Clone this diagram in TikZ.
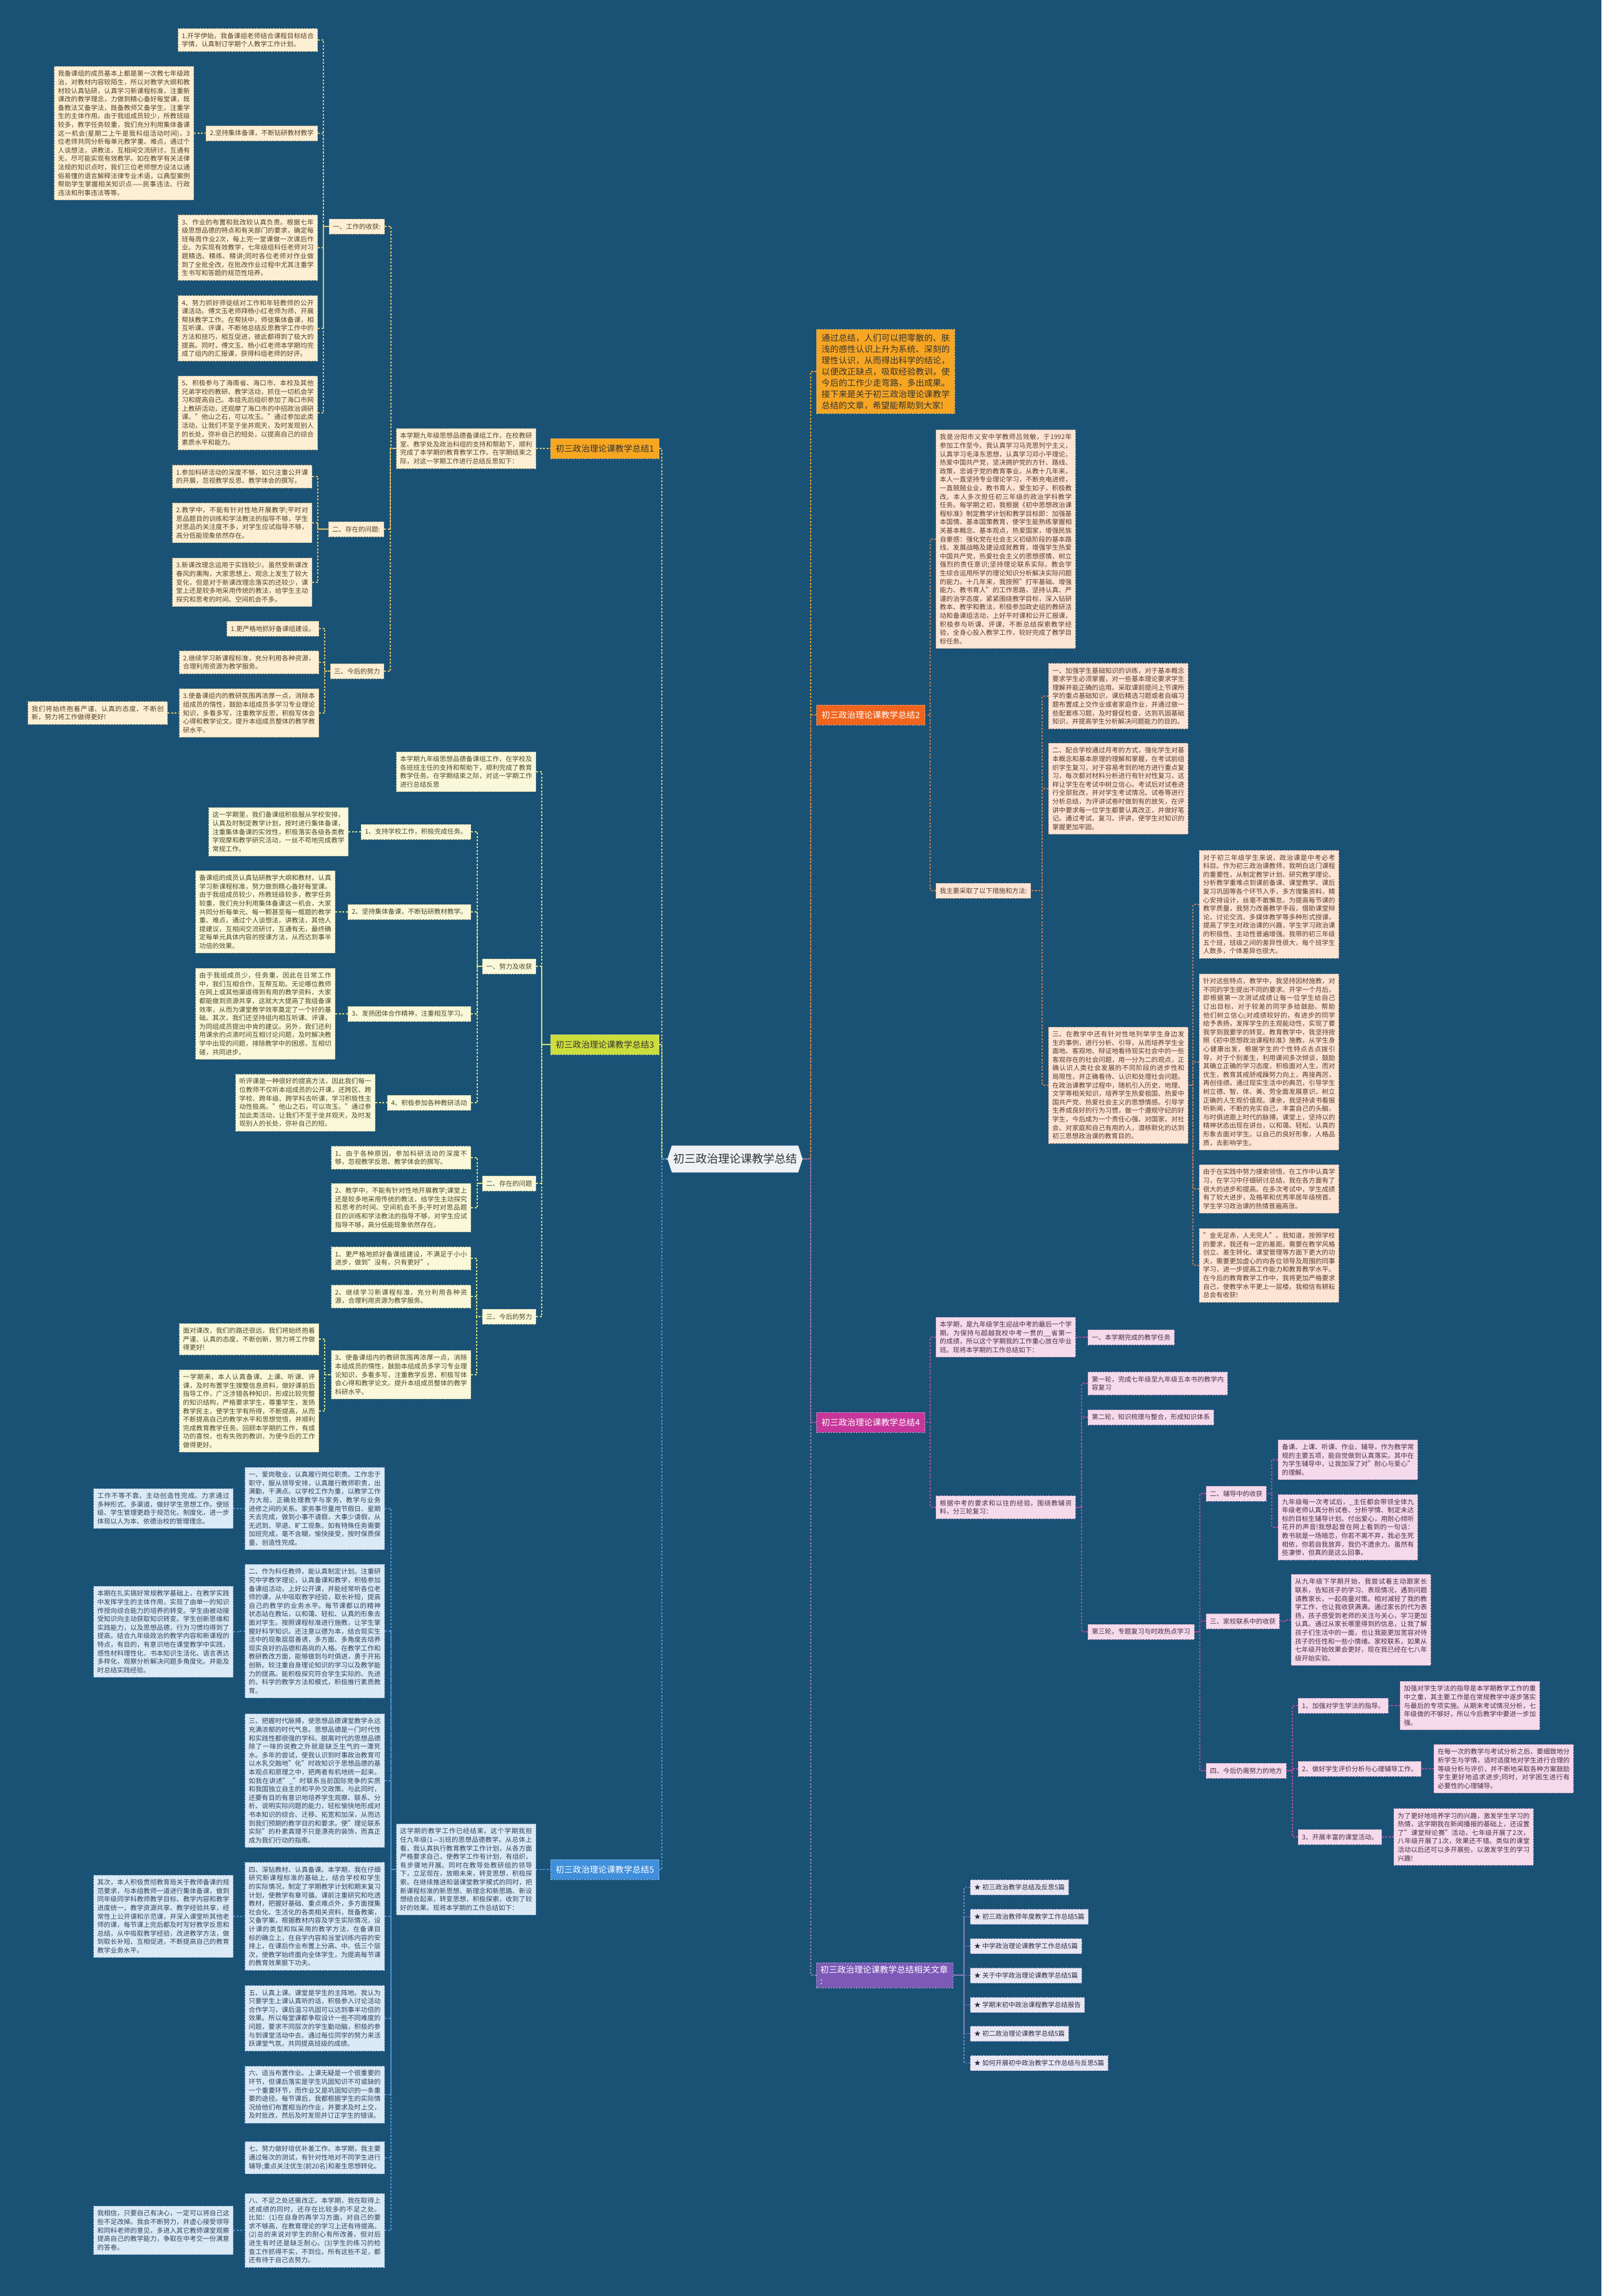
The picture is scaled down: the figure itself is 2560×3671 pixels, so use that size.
\documentclass[tikz,border=0pt]{standalone}
\usepackage{fontspec}
\setmainfont{Noto Sans CJK SC}
\XeTeXlinebreaklocale "zh"
\XeTeXlinebreakskip=0pt plus 1pt
\newcommand\fsa{\fontsize{10.5pt}{13.6pt}\selectfont}
\newcommand\fsb{\fontsize{13.6pt}{18pt}\selectfont}
\newcommand\fsc{\fontsize{18pt}{22pt}\selectfont}
\definecolor{bg}{RGB}{26,82,118}
\definecolor{c1f}{RGB}{253,239,212}\definecolor{c1d}{RGB}{205,180,130}\definecolor{c1t}{RGB}{84,66,40}\definecolor{c1l}{RGB}{228,192,106}\definecolor{c1b}{RGB}{247,166,32}
\definecolor{c3f}{RGB}{250,248,218}\definecolor{c3d}{RGB}{200,198,150}\definecolor{c3t}{RGB}{74,72,42}\definecolor{c3l}{RGB}{214,226,124}\definecolor{c3b}{RGB}{203,222,60}
\definecolor{c5f}{RGB}{220,234,246}\definecolor{c5d}{RGB}{150,180,212}\definecolor{c5t}{RGB}{48,66,92}\definecolor{c5l}{RGB}{76,147,216}\definecolor{c5b}{RGB}{63,143,221}
\definecolor{c2f}{RGB}{253,229,214}\definecolor{c2d}{RGB}{212,170,148}\definecolor{c2t}{RGB}{90,58,42}\definecolor{c2l}{RGB}{192,123,80}\definecolor{c2b}{RGB}{240,100,30}
\definecolor{c4f}{RGB}{245,218,236}\definecolor{c4d}{RGB}{208,163,195}\definecolor{c4t}{RGB}{77,44,69}\definecolor{c4l}{RGB}{179,78,159}\definecolor{c4b}{RGB}{199,55,155}
\definecolor{c6f}{RGB}{233,231,244}\definecolor{c6d}{RGB}{176,171,203}\definecolor{c6t}{RGB}{44,44,68}\definecolor{c6l}{RGB}{138,128,184}\definecolor{c6b}{RGB}{125,89,184}
\definecolor{c0b}{RGB}{246,166,35}\definecolor{c0l}{RGB}{240,160,40}
\definecolor{ctrf}{RGB}{238,241,245}\definecolor{ctrt}{RGB}{50,50,50}
\tikzset{
  nbox/.style={draw, dash pattern=on 2.5pt off 2pt, line width=0.8pt, inner xsep=6pt, inner ysep=6.5pt, font=\fsa, minimum height=24pt},
  tw/.style={text width=211pt, align=justify},
  lbl/.style={draw, dash pattern=on 2.5pt off 2pt, line width=0.8pt, inner xsep=8pt, inner ysep=5pt, font=\fsb, minimum height=32pt},
  k1/.style={nbox, fill=c1f, draw=c1d, text=c1t},
  k3/.style={nbox, fill=c3f, draw=c3d, text=c3t},
  k5/.style={nbox, fill=c5f, draw=c5d, text=c5t},
  k2/.style={nbox, fill=c2f, draw=c2d, text=c2t},
  k4/.style={nbox, fill=c4f, draw=c4d, text=c4t},
  k6/.style={nbox, fill=c6f, draw=c6d, text=c6t},
  ln/.style={dash pattern=on 3pt off 2.5pt, line width=1.3pt},
  l1/.style={ln, draw=c1l}, l3/.style={ln, draw=c3l}, l5/.style={ln, draw=c5l},
  l2/.style={ln, draw=c2l}, l4/.style={ln, draw=c4l}, l6/.style={ln, draw=c6l}, l0/.style={ln, draw=c0l},
  L/.style={anchor=east}, R/.style={anchor=west}
}
\newcommand\lk[4]{\draw[#1] (#2.east) -- ++(#3,0) |- (#4.west);}
\newcommand\rk[4]{\draw[#1] (#2.west) -- ++(-#3,0) |- (#4.east);}
\begin{document}
\begin{tikzpicture}[x=1pt,y=-1pt]
\fill[bg] (0,0) rectangle (2560,3671);
\useasboundingbox (0,0) rectangle (2560,3671);
% center
\fill[ctrf] (1074,1831.5) -- (1276,1831.5) -- (1283,1853) -- (1276,1874.5) -- (1074,1874.5) -- (1067,1853) -- cycle;
\node[font=\fsc, text=ctrt, minimum width=216pt, minimum height=43pt, inner sep=0pt] (ctr) at (1175,1853) {初三政治理论课教学总结};

% ===== Branch 1 =====
\node[lbl, L, fill=c1b, draw=c1d, text=black!80] (b1) at (1054,717) {初三政治理论课教学总结1};
\node[k1,tw,L] (n1i) at (857,717) {本学期九年级思想品德备课组工作，在校教研室、教学处及政治科组的支持和帮助下，顺利完成了本学期的教育教学工作。在学期结束之际，对这一学期工作进行总结反思如下：};
\node[k1,L] (n1a) at (615,362) {一、工作的收获:};
\node[k1,tw,L] (n1a1) at (508,64) {1.开学伊始，我备课组老师结合课程目标结合学情，认真制订学期个人教学工作计划。};
\node[k1,L] (n1a2) at (508,213) {2.坚持集体备课，不断钻研教材教学};
\node[k1,tw,L] (n1a2a) at (310,213) {我备课组的成员基本上都是第一次教七年级政治，对教材内容较陌生，所以对教学大纲和教材较认真钻研，认真学习新课程标准，注重新课改的教学理念，力做到精心备好每堂课，既备教法又备学法，既备教师又备学生，注重学生的主体作用。由于我组成员较少，所教班级较多，教学任务较重，我们充分利用集体备课这一机会(星期二上午是我科组活动时间)，3位老师共同分析每单元教学重、难点，通过个人谈想法，讲教法，互相间交流研讨，互通有无，尽可能实现有效教学。如在教学有关法律法规的知识点时，我们三位老师想方设法以通俗易懂的语言解释法律专业术语，以典型案例帮助学生掌握相关知识点——民事违法、行政违法和刑事违法等等。};
\node[k1,tw,L] (n1a3) at (508,396) {3、作业的布置和批改较认真负责。根据七年级思想品德的特点和有关部门的要求，确定每班每周作业2次，每上完一堂课做一次课后作业。为实现有效教学，七年级组科任老师对习题精选、精练、精讲;同时各位老师对作业做到了全批全改，在批改作业过程中尤其注重学生书写和答题的规范性培养。};
\node[k1,tw,L] (n1a4) at (508,525) {4、努力抓好师徒结对工作和年轻教师的公开课活动。傅文玉老师拜杨小红老师为师，开展帮扶教学工作。在帮扶中，师徒集体备课，相互听课、评课，不断地总结反思教学工作中的方法和技巧，相互促进，彼此都得到了极大的提高。同时，傅文玉、杨小红老师本学期均完成了组内的汇报课，获得科组老师的好评。};
\node[k1,tw,L] (n1a5) at (508,660) {5、积极参与了海南省、海口市、本校及其他兄弟学校的教研、教学活动，抓住一切机会学习和提高自己。本组先后组织参加了海口市网上教研活动，还观摩了海口市的中招政治调研课。"他山之石，可以攻玉。"通过参加此类活动，让我们不至于坐井观天，及时发现别人的长处，弥补自己的短处，以提高自己的综合素质水平和能力。};
\node[k1,L] (n1b) at (614,846) {二、存在的问题:};
\node[k1,tw,L] (n1b1) at (499,762) {1.参加科研活动的深度不够，如只注重公开课的开展，忽视教学反思、教学体会的撰写。};
\node[k1,tw,L] (n1b2) at (499,836) {2.教学中，不能有针对性地开展教学;平时对思品题目的训练和学法教法的指导不够，学生对思品的关注度不多，对学生应试指导不够，高分低能现象依然存在。};
\node[k1,tw,L] (n1b3) at (499,931) {3.新课改理念运用于实践较少。虽然受新课改春风的熏陶，大家思想上、观念上发生了较大变化，但是对于新课改理念落实的还较少，课堂上还是较多地采用传统的教法，给学生主动探究和思考的时间、空间机会不多。};
\node[k1,L] (n1c) at (614,1073) {三、今后的努力};
\node[k1,L] (n1c1) at (510,1005) {1.更严格地抓好备课组建设。};
\node[k1,tw,L] (n1c2) at (510,1059) {2.继续学习新课程标准，充分利用各种资源，合理利用资源为教学服务。};
\node[k1,tw,L] (n1c3) at (510,1140) {3.使备课组内的教研氛围再浓厚一点，消除本组成员的惰性，鼓励本组成员多学习专业理论知识，多看多写，注重教学反思，积极写体会心得和教学论文。提升本组成员整体的教学教研水平。};
\node[k1,tw,L] (n1c3a) at (268,1140) {我们将始终抱着严谨、认真的态度，不断创新，努力将工作做得更好!};

% ===== Branch 3 =====
\node[lbl, L, fill=c3b, draw=c3d, text=black!80] (b3) at (1054,1670) {初三政治理论课教学总结3};
\node[k3,tw,L] (n3i) at (857,1234) {本学期九年级思想品德备课组工作，在学校及各班班主任的支持和帮助下，顺利完成了教育教学任务。在学期结束之际，对这一学期工作进行总结反思};
\node[k3,L] (n3a) at (857,1545) {一、努力及收获};
\node[k3,L] (n3a1) at (753,1330) {1、支持学校工作，积极完成任务。};
\node[k3,tw,L] (n3a1a) at (557,1330) {这一学期里，我们备课组积极服从学校安排，认真及时制定教学计划，按时进行集体备课，注重集体备课的实效性，积极落实各级各类教学观摩和教学研究活动，一丝不苟地完成教学常规工作。};
\node[k3,L] (n3a2) at (753,1458) {2、坚持集体备课，不断钻研教材教学。};
\node[k3,tw,L] (n3a2a) at (536,1458) {备课组的成员认真钻研教学大纲和教材，认真学习新课程标准，努力做到精心备好每堂课。由于我组成员较少，所教班级较多，教学任务较重，我们充分利用集体备课这一机会，大家共同分析每单元、每一颗甚至每一框题的教学重、难点，通过个人谈想法，讲教法，其他人提建议，互相间交流研讨，互通有无，最终确定每单元具体内容的授课方法，从而达到事半功倍的效果。};
\node[k3,L] (n3a3) at (753,1621) {3、发扬团体合作精神，注重相互学习。};
\node[k3,tw,L] (n3a3a) at (536,1621) {由于我组成员少，任务重，因此在日常工作中，我们互相合作，互帮互助。无论哪位教师在网上或其他渠道得到有用的教学资料，大家都能做到资源共享，这就大大提高了我组备课效率，从而为课堂教学效率奠定了一个好的基础。其次，我们还坚持组内相互听课、评课，为同组成员提出中肯的建议。另外，我们还利用课余的点滴时间互相讨论问题，及时解决教学中出现的问题，排除教学中的困惑，互相切磋，共同进步。};
\node[k3,L] (n3a4) at (753,1763) {4、积极参加各种教研活动};
\node[k3,tw,L] (n3a4a) at (600,1763) {听评课是一种很好的提高方法，因此我们每一位教师不仅听本组成员的公开课，还跨区、跨学校、跨年级、跨学科去听课，学习积极性主动性极高。"他山之石，可以攻玉。"通过参加此类活动，让我们不至于坐井观天，及时发现别人的长处，弥补自己的短。};
\node[k3,L] (n3b) at (857,1892) {二、存在的问题};
\node[k3,tw,L] (n3b1) at (753,1851) {1、由于各种原因，参加科研活动的深度不够，忽视教学反思、教学体会的撰写。};
\node[k3,tw,L] (n3b2) at (753,1931) {2、教学中，不能有针对性地开展教学;课堂上还是较多地采用传统的教法，给学生主动探究和思考的时间、空间机会不多;平时对思品题目的训练和学法教法的指导不够，对学生应试指导不够，高分低能现象依然存在。};
\node[k3,L] (n3c) at (857,2105) {三、今后的努力};
\node[k3,tw,L] (n3c1) at (753,2012) {1、更严格地抓好备课组建设，不满足于小小进步，做到"没有，只有更好"。};
\node[k3,tw,L] (n3c2) at (753,2073) {2、继续学习新课程标准，充分利用各种资源，合理利用资源为教学服务。};
\node[k3,tw,L] (n3c3) at (753,2198) {3、使备课组内的教研氛围再浓厚一点，消除本组成员的惰性，鼓励本组成员多学习专业理论知识，多看多写，注重教学反思，积极写体会心得和教学论文。提升本组成员整体的教学科研水平。};
\node[k3,tw,L] (n3c3a) at (510,2141) {面对课改，我们的路还很远，我们将始终抱着严谨、认真的态度，不断创新，努力将工作做得更好!};
\node[k3,tw,L] (n3c3b) at (510,2256) {一学期来，本人认真备课、上课、听课、评课，及时布置学生搜整信息资料，做好课前后指导工作，广泛涉猎各种知识，形成比较完整的知识结构，严格要求学生，尊重学生，发扬教学民主，使学生学有所得，不断提高，从而不断提高自己的教学水平和思想觉悟，并顺利完成教育教学任务。回顾本学期的工作，有成功的喜悦，也有失败的教训，为使今后的工作做得更好。};

% ===== Branch 5 =====
\node[lbl, L, fill=c5b, draw=c5d, text=white] (b5) at (1054,2989) {初三政治理论课教学总结5};
\node[k5,tw,L] (n5i) at (857,2989) {这学期的教学工作已经结束，这个学期我担任九年级(1—3)班的思想品德教学。从总体上看，我认真执行教育教学工作计划，从各方面严格要求自己，使教学工作有计划，有组织，有步骤地开展。同时在教导处教研组的领导下，立足现在，放眼未来，转变思想，积极探索。在继续推进和谐课堂教学模式的同时，把新课程标准的新思想、新理念和新思路、新设想结合起来，转变思想，积极探索，收到了较好的效果。现将本学期的工作总结如下：};
\node[k5,tw,L] (n5a) at (615,2412) {一、爱岗敬业，认真履行岗位职责。工作忠于职守，服从领导安排，认真履行教师职责，出满勤，干满点。以学校工作为重，以教学工作为大局，正确处理教学与家务，教学与业务进修之间的关系。家务事尽量用节假日、星期天去完成，做到小事不请假，大事少请假，从无迟到、早退、旷工现象。如有特殊任务需要加班完成，毫不含糊，愉快接受，按时保质保量、创造性完成。};
\node[k5,tw,L] (n5a1) at (373,2412) {工作不等不靠，主动创造性完成。力求通过多种形式、多渠道，做好学生思想工作。使班级、学生管理更趋于规范化，制度化，进一步体现以人为本、依德治校的管理理念。};
\node[k5,tw,L] (n5b) at (615,2608) {二、作为科任教师，能认真制定计划。注重研究中学教学理论，认真备课和教学，积极参加备课组活动，上好公开课，并能经常听各位老师的课，从中吸取教学经验，取长补短，提高自己的教学的业务水平。每节课都以的精神状态站在教坛，以和蔼、轻松、认真的形象去面对学生。按照课程标准进行施教，让学生掌握好科学知识。还注意以德为本，结合现实生活中的现象层层善诱，多方面、多角度去培养现实良好的品德和高尚的人格。在教学工作和教研教改方面，能够做到与时俱进，勇于开拓创新。较注重自身理论知识的学习以及教学能力的提高。能积极探究符合学生实际的、先进的、科学的教学方法和模式，积极推行素质教育。};
\node[k5,tw,L] (n5b1) at (373,2609) {本期在扎实搞好常规教学基础上，在教学实践中发挥学生的主体作用，实现了由单一的知识传授向综合能力的培养的转变。学生由被动接受知识向主动获取知识转变。学生创新思维和实践能力，以及思想品德，行为习惯均得到了提高。结合九年级政治的教学内容和新课程的特点，有目的，有意识地在课堂教学中实践，感性材料理性化，书本知识生活化、语言表达多样化，观察分析解决问题多角度化。并能及时总结实践经验。};
\node[k5,tw,L] (n5c) at (615,2847) {三、把握时代脉搏，使思想品德课堂教学永远充满浓郁的时代气息。思想品德是一门时代性和实践性都很强的学科。脱离时代的思想品德除了一味的说教之外就是缺乏生气的一潭死水。多年的尝试，使我认识到时事政治教育可以水乳交融地"化"时政知识于思想品德的基本观点和原理之中，把两者有机地统一起来。如我在讲述"\_"时联系当前国际竞争的实质和我国独立自主的和平外交政策。与此同时，还要有目的有意识地培养学生观察、联系、分析、说明实际问题的能力，轻松愉快地形成对书本知识的综合、迁移、拓宽和加深，从而达到我们预期的教学目的和要求。使"理论联系实际"的朴素真理不只是漂亮的装饰，而真正成为我们行动的指南。};
\node[k5,tw,L] (n5d) at (615,3064) {四、深钻教材、认真备课。本学期，我在仔细研究新课程标准的基础上，结合学校和学生的实际情况，制定了学期教学计划和期末复习计划，使教学有章可循。课前注重研究和吃透教材，把握好基础、重点难点外，多方面搜集社会化、生活化的各类相关资料，既备教案，又备学案，根据教材内容及学生实际情况，设计课的类型和拟采用的教学方法，在备课目标的确立上，在自学内容和当堂训练内容的安排上，在课后作业布置上分高、中、低三个层次，使教学始终面向全体学生，为提高每节课的教育效果狠下功夫。};
\node[k5,tw,L] (n5d1) at (373,3064) {其次，本人积极贯彻教育局关于教师备课的规范要求，与本组教师一道进行集体备课，做到同年级同学科教师教学目标、教学内容和教学进度统一，教学资源共享、教学经验共享，经常性上公开课和示范课，并深入课堂听其他老师的课，每节课上完后都及时写好教学反思和总结，从中吸取教学经验，改进教学方法，做到取长补短、互相促进，不断提高自己的教育教学业务水平。};
\node[k5,tw,L] (n5e) at (615,3227) {五、认真上课。课堂是学生的主阵地。我认为只要学生上课认真听的话，积极参入讨论活动合作学习，课后温习巩固可以达到事半功倍的效果。所以每堂课都争取设计一些不同难度的问题，要求不同层次的学生勤动脑，积极的参与到课堂活动中去。通过每位同学的努力来活跃课堂气氛，共同提高班级的成绩。};
\node[k5,tw,L] (n5f) at (615,3349) {六、适当布置作业。上课无疑是一个很重要的环节，但课后落实是学生巩固知识不可或缺的一个重要环节，而作业又是巩固知识的一条重要的途径。每节课后，我都根据学生的实际情况给他们布置相当的作业，并要求及时上交，及时批改，然后及时发现并订正学生的错误。};
\node[k5,tw,L] (n5g) at (615,3450) {七、努力做好培优补差工作。本学期，我主要通过每次的测试，有针对性地对不同学生进行辅导;重点关注优生(前20名)和差生思想转化。};
\node[k5,tw,L] (n5h) at (615,3566) {八、不足之处还需改正。本学期，我在取得上述成绩的同时，还存在比较多的不足之处。比如：(1)在自身的再学习方面，对自己的要求不够高，在教育理论的学习上还有待提高。(2)总的来说对学生的耐心有所改善，但对后进生有时还是缺乏耐心。(3)学生的练习的检查工作抓得不实，不到位。所有这些不足，都还有待于自己去努力。};
\node[k5,tw,L] (n5h1) at (373,3566) {我相信，只要自己有决心，一定可以将自己这些不足改掉。我会不断努力，并虚心接受领导和同科老师的意见，多进入其它教师课堂观察提高自己的教学能力，争取在中考交一份满意的答卷。};

% ===== Intro =====
\node[lbl, R, fill=c0b, draw=c1d, text=black!80, text width=205pt, align=justify, inner ysep=7pt] (intro) at (1305,594) {通过总结，人们可以把零散的、肤浅的感性认识上升为系统、深刻的理性认识，从而得出科学的结论，以便改正缺点，吸取经验教训，使今后的工作少走弯路，多出成果。接下来是关于初三政治理论课教学总结的文章，希望能帮助到大家!};

% ===== Branch 2 =====
\node[lbl, R, fill=c2b, draw=c2d, text=white] (b2) at (1305,1143) {初三政治理论课教学总结2};
\node[k2,tw,R] (n2a) at (1496,862) {我是汾阳市义安中学教师吕效敏，于1992年参加工作至今。我认真学习马克思列宁主义，认真学习毛泽东思想，认真学习邓小平理论，热爱中国共产党，坚决拥护党的方针、路线、政策，忠诚于党的教育事业。从教十几年来，本人一直坚持专业理论学习，不断充电进修，一直兢兢业业，教书育人，爱生如子，积极教改。本人多次担任初三年级的政治学科教学任务。每学期之初，我根据《初中思想政治课程标准》制定教学计划和教学目标即：加强基本国情、基本国策教育，使学生能熟练掌握相关基本概念、基本观点，热爱国家，增强民族自豪感：强化党在社会主义初级阶段的基本路线、发展战略及建设成就教育，增强学生热爱中国共产党，热爱社会主义的思想感情，树立强烈的责任意识;坚持理论联系实际，教会学生综合运用所学的理论知识分析解决实际问题的能力。十几年来，我按照"打牢基础、增强能力、教书育人"的工作思路，坚持认真、严谨的治学态度，紧紧围绕教学目标，深入钻研教本、教学和教法，积极参加政史组的教研活动和备课组活动，上好平时课和公开汇报课，积极参与听课、评课，不断总结探索教学经验，全身心投入教学工作，较好完成了教学目标任务。};
\node[k2,R] (n2b) at (1496,1424) {我主要采取了以下措施和方法:};
\node[k2,tw,R] (n2b1) at (1676,1113) {一、加强学生基础知识的训练，对于基本概念要求学生必须掌握，对一些基本理论要求学生理解并能正确的运用。采取课前提问上节课所学的重点基础知识，课后精选习题或者自编习题布置成上交作业或者家庭作业，并通过做一些配套练习题，及时督促检查，达到巩固基础知识，并提高学生分析解决问题能力的目的。};
\node[k2,tw,R] (n2b2) at (1676,1261) {二、配合学校通过月考的方式，强化学生对基本概念和基本原理的理解和掌握，在考试前组织学生复习，对于容易考到的地方进行重点复习，每次都对材料分析进行有针对性复习，这样让学生在考试中树立信心。考试后对试卷进行全部批改，并对学生考试情况、试卷等进行分析总结，为评讲试卷时做到有的放矢，在评讲中要求每一位学生都要认真改正，并做好笔记。通过考试、复习、评讲，使学生对知识的掌握更加牢固。};
\node[k2,tw,R] (n2b3) at (1676,1735) {三、在教学中还有针对性地列举学生身边发生的事例，进行分析、引导，从而培养学生全面地、客观地、辩证地看待现实社会中的一些客观存在的社会问题，用一分为二的观点，正确认识人类社会发展的不同阶段的进步性和局限性，并正确看待、认识和处理社会问题。在政治课教学过程中，随机引入历史、地理、文学等相关知识，培养学生热爱祖国、热爱中国共产党、热爱社会主义的思想情感。引导学生养成良好的行为习惯，做一个遵规守纪的好学生，今后成为一个责任心强、对国家、对社会、对家庭和自己有用的人，潜移默化的达到初三思想政治课的教育目的。};
\node[k2,tw,R] (n2c1) at (1917,1446) {对于初三年级学生来说，政治课是中考必考科目。作为初三政治课教师，我明白这门课程的重要性，从制定教学计划、研究教学理论、分析教学重难点到课前备课、课堂教学、课后复习巩固等各个环节入手，多方搜集资料，精心安排设计，丝毫不敢懈怠。为提高每节课的教学质量，我努力改善教学手段，借助课堂辩论、讨论交流、多媒体教学等多种形式授课，提高了学生对政治课的兴趣，学生学习政治课的积极性、主动性普遍增强。我带的初三年级五个班，班级之间的差异性很大，每个班学生人数多，个体差异也很大。};
\node[k2,tw,R] (n2c2) at (1917,1698) {针对这些特点，教学中，我坚持因材施教，对不同的学生提出不同的要求。开学一个月后，即根据第一次测试成绩让每一位学生给自己订出目标，对于较差的同学多给鼓励，帮助他们树立信心;对成绩较好的，有进步的同学给予表扬，发挥学生的主观能动性，实现了要我学到我要学的转变。教育教学中，我坚持按照《初中思想政治课程标准》施教，从学生身心健康出发，根据学生的个性特点去点拨引导，对于个别差生，利用课间多次倾谈，鼓励其确立正确的学习态度，积极面对人生，而对优生，教育其戒骄戒躁努力向上，再接再厉，再创佳绩。通过现实生活中的典范，引导学生树立德、智、体、美、劳全面发展意识，树立正确的人生观价值观。课余，我坚持读书看报听新闻，不断的充实自己，丰富自己的头脑，与时俱进跟上时代的脉搏。课堂上，坚持以的精神状态出现在讲台，以和蔼、轻松、认真的形象去面对学生。以自己的良好形象，人格品质，去影响学生。};
\node[k2,tw,R] (n2c3) at (1917,1901) {由于在实践中努力摸索领悟，在工作中认真学习，在学习中仔细研讨总结，我在各方面有了很大的进步和提高。在多次考试中，学生成绩有了较大进步，及格率和优秀率居年级榜首。学生学习政治课的热情普遍高涨。};
\node[k2,tw,R] (n2c4) at (1917,2023) {"金无足赤，人无完人"。我知道，按照学校的要求，我还有一定的差距。需要在教学风格创立、差生转化、课堂管理等方面下更大的功夫，需要更加虚心的向各位领导及周围的同事学习，进一步提高工作能力和教育教学水平。在今后的教育教学工作中，我将更加严格要求自己，使教学水平更上一层楼。我相信有耕耘总会有收获!};

% ===== Branch 4 =====
\node[lbl, R, fill=c4b, draw=c4d, text=white] (b4) at (1305,2274) {初三政治理论课教学总结4};
\node[k4,tw,R] (n4a) at (1496,2138) {本学期，是九年级学生迎战中考的最后一个学期。为保持与超越我校中考一贯的\_\_省第一的成绩，所以这个学期我的工作重心放在毕业班。现将本学期的工作总结如下：};
\node[k4,R] (n4a1) at (1739,2138) {一、本学期完成的教学任务};
\node[k4,tw,R] (n4b) at (1496,2410) {根据中考的要求和以往的经验，围绕教辅资料，分三轮复习：};
\node[k4,tw,R] (n4b1) at (1739,2212) {第一轮，完成七年级至九年级五本书的教学内容复习};
\node[k4,R] (n4b2) at (1739,2266) {第二轮，知识梳理与整合，形成知识体系};
\node[k4,R] (n4b3) at (1739,2609) {第三轮，专题复习与时政热点学习};
\node[k4,R] (n4c) at (1928,2388) {二、辅导中的收获};
\node[k4,tw,R] (n4c1) at (2043,2334) {备课、上课、听课、作业、辅导，作为教学常规的主要五项，能自觉做到认真落实。其中在为学生辅导中，让我加深了对"耐心与爱心"的理解。};
\node[k4,tw,R] (n4c2) at (2043,2442) {九年级每一次考试后，\_主任都会带领全体九年级老师认真分析试卷、分析学情、制定未达标的目标生辅导计划。付出爱心，用耐心倾听花开的声音!我想起曾在网上看到的一句话：教书就是一场暗恋，你若不离不弃，我必生死相依，你若自我放弃，我仍不遗余力。虽然有些凄惨，但真的是这么回事。};
\node[k4,R] (n4d) at (1928,2592) {三、家校联系中的收获};
\node[k4,tw,R] (n4d1) at (2064,2590) {从九年级下学期开始，我尝试着主动跟家长联系，告知孩子的学习、表现情况，遇到问题请教家长，一起商量对策。相对减轻了我的教学工作，也让我收获满满。通过家长的代为表扬，孩子感受到老师的关注与关心，学习更加认真。通过从家长哪里得到的信息，让我了解孩子们生活中的一面，也让我能更加宽容对待孩子的任性和一些小情绪。家校联系，如果从七年级开始效果会更好，现在我已经在七八年级开始实验。};
\node[k4,R] (n4e) at (1928,2831) {四、今后仍需努力的地方};
\node[k4,R] (n4e1) at (2075,2727) {1、加强对学生学法的指导。};
\node[k4,tw,R] (n4e1a) at (2238,2727) {加强对学生学法的指导是本学期教学工作的重中之重，其主要工作是在常规教学中逐步落实与最后的专项实施。从期末考试情况分析，七年级做的不够好，所以今后教学中要进一步加强。};
\node[k4,R] (n4e2) at (2075,2828) {2、做好学生评价分析与心理辅导工作。};
\node[k4,tw,R] (n4e2a) at (2292,2828) {在每一次的教学与考试分析之后，要细致地分析学生与学情，适时适度地对学生进行合理的等级分析与评价，并不断地采取各种方案鼓励学生更好地追求进步;同时，对学困生进行有必要性的心理辅导。};
\node[k4,R] (n4e3) at (2075,2937) {3、开展丰富的课堂活动。};
\node[k4,tw,R] (n4e3a) at (2228,2937) {为了更好地培养学习的兴趣，激发学生学习的热情，这学期我在新闻播报的基础上，还设置了"课堂辩论赛"活动，七年级开展了2次，八年级开展了1次，效果还不错。类似的课堂活动以后还可以多开展些，以激发学生的学习兴趣!};

% ===== Related =====
\node[lbl, R, fill=c6b, draw=c6d, text=white, text width=206pt, align=left, inner xsep=6pt] (rl) at (1305,3158) {初三政治理论课教学总结相关文章\\:};
\node[k6,R] (r1) at (1551,3017.5) {★ 初三政治教学总结及反思5篇};
\node[k6,R] (r2) at (1551,3064.5) {★ 初三政治教师年度教学工作总结5篇};
\node[k6,R] (r3) at (1551,3111.5) {★ 中学政治理论课教学工作总结5篇};
\node[k6,R] (r4) at (1551,3158.5) {★ 关于中学政治理论课教学总结5篇};
\node[k6,R] (r5) at (1551,3205.5) {★ 学期末初中政治课程教学总结报告};
\node[k6,R] (r6) at (1551,3251.5) {★ 初二政治理论课教学总结5篇};
\node[k6,R] (r7) at (1551,3298.5) {★ 如何开展初中政治教学工作总结与反思5篇};

% ===== connectors =====
\lk{l1}{b1}{4}{ctr}
\lk{l3}{b3}{4}{ctr}
\lk{l5}{b5}{4}{ctr}
\rk{l0}{intro}{9}{ctr}
\rk{l2}{b2}{9}{ctr}
\rk{l4}{b4}{9}{ctr}
\rk{l6}{rl}{9}{ctr}
% branch 1
\lk{l1}{n1i}{7}{b1}
\foreach \c in {n1a,n1b,n1c} {\lk{l1}{\c}{10}{n1i}}
\foreach \c in {n1a1,n1a2,n1a3,n1a4,n1a5} {\lk{l1}{\c}{9}{n1a}}
\lk{l1}{n1a2a}{9}{n1a2}
\foreach \c in {n1b1,n1b2,n1b3} {\lk{l1}{\c}{9}{n1b}}
\foreach \c in {n1c1,n1c2,n1c3} {\lk{l1}{\c}{9}{n1c}}
\lk{l1}{n1c3a}{9}{n1c3}
% branch 3
\foreach \c in {n3i,n3a,n3b,n3c} {\lk{l3}{\c}{9}{b3}}
\foreach \c in {n3a1,n3a2,n3a3,n3a4} {\lk{l3}{\c}{10}{n3a}}
\lk{l3}{n3a1a}{9}{n3a1}
\lk{l3}{n3a2a}{9}{n3a2}
\lk{l3}{n3a3a}{9}{n3a3}
\lk{l3}{n3a4a}{9}{n3a4}
\foreach \c in {n3b1,n3b2} {\lk{l3}{\c}{10}{n3b}}
\foreach \c in {n3c1,n3c2,n3c3} {\lk{l3}{\c}{9}{n3c}}
\foreach \c in {n3c3a,n3c3b} {\lk{l3}{\c}{9}{n3c3}}
% branch 5
\lk{l5}{n5i}{9}{b5}
\foreach \c in {n5a,n5b,n5c,n5d,n5e,n5f,n5g,n5h} {\lk{l5}{\c}{10}{n5i}}
\lk{l5}{n5a1}{9}{n5a}
\lk{l5}{n5b1}{9}{n5b}
\lk{l5}{n5d1}{9}{n5d}
\lk{l5}{n5h1}{9}{n5h}
% branch 2
\foreach \c in {n2a,n2b} {\rk{l2}{\c}{9}{b2}}
\foreach \c in {n2b1,n2b2,n2b3} {\rk{l2}{\c}{10}{n2b}}
\foreach \c in {n2c1,n2c2,n2c3,n2c4} {\rk{l2}{\c}{10}{n2b3}}
% branch 4
\foreach \c in {n4a,n4b} {\rk{l4}{\c}{9}{b4}}
\rk{l4}{n4a1}{10}{n4a}
\foreach \c in {n4b1,n4b2,n4b3} {\rk{l4}{\c}{10}{n4b}}
\foreach \c in {n4c,n4d,n4e} {\rk{l4}{\c}{10}{n4b3}}
\foreach \c in {n4c1,n4c2} {\rk{l4}{\c}{10}{n4c}}
\rk{l4}{n4d1}{10}{n4d}
\foreach \c in {n4e1,n4e2,n4e3} {\rk{l4}{\c}{9}{n4e}}
\rk{l4}{n4e1a}{10}{n4e1}
\rk{l4}{n4e2a}{10}{n4e2}
\rk{l4}{n4e3a}{10}{n4e3}
% related
\foreach \c in {r1,r2,r3,r4,r5,r6,r7} {\rk{l6}{\c}{10}{rl}}
\end{tikzpicture}
\end{document}
